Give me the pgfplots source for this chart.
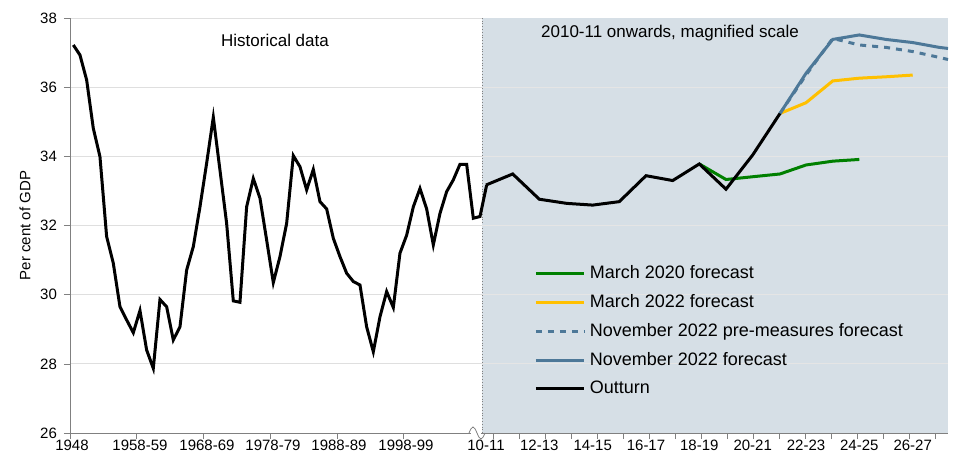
\documentclass[border=0pt]{standalone}
\usepackage{pgfplots}
\pgfplotsset{compat=1.18}
\usepackage{pgfplotstable}
\usepackage{fontspec}
\setmainfont{Liberation Sans}
\definecolor{bgc}{RGB}{214,223,230}
\definecolor{grn}{RGB}{0,128,0}
\definecolor{yel}{RGB}{255,192,0}
\definecolor{blu}{RGB}{77,120,152}
\definecolor{axc}{RGB}{128,128,128}
\pgfplotstableread{
y
37.22
36.93
36.21
34.81
33.99
31.68
30.91
29.65
29.27
28.90
29.54
28.40
27.87
29.86
29.65
28.69
29.07
30.71
31.39
32.54
33.80
35.13
33.60
32.06
29.82
29.78
32.54
33.36
32.79
31.58
30.35
31.10
32.06
34.02
33.70
33.03
33.62
32.69
32.48
31.63
31.10
30.62
30.38
30.28
29.07
28.35
29.36
30.09
29.63
31.20
31.72
32.54
33.07
32.48
31.44
32.35
32.98
33.32
33.77
33.77
32.21
32.26
33.17
}\hist
\begin{document}
\begin{tikzpicture}
\begin{axis}[
  scale only axis, width=439pt, height=207.5pt,
  xmin=70, xmax=948, ymin=26, ymax=38, clip=false,
  /pgf/number format/assume math mode=true,
  axis lines=left, axis line style={axc,-}, 
  ytick={26,28,...,38}, ymajorgrids, grid style={gray!25},
  tick style={axc}, tick align=outside, major tick length=3pt,
  xtick={70,136.7,203.3,270,336.7,403.3,493.3,519.3,545.3,571.3,597.3,623.3,649.3,675.3,701.3,727.3,753.3,779.3,805.3,831.3,857.3,883.3,909.3,935.3},
  xticklabels={},
  extra x ticks={72,140,207,273,339,406,486,539.3,592.7,646,699.3,752.7,806,859.3,912.7},
  extra x tick labels={1948,1958-59,1968-69,1978-79,1988-89,1998-99,10-11,12-13,14-15,16-17,18-19,20-21,22-23,24-25,26-27},
  extra x tick style={major tick length=0pt, grid=none},
  ticklabel style={font=\fontsize{7.5}{8}\selectfont},
  ylabel={Per cent of GDP}, ylabel style={font=\fontsize{7.5}{8}\selectfont, yshift=-2pt},
  legend style={at={(axis cs:528,31.1)}, anchor=north west, draw=none, fill=none,
    font=\fontsize{9}{10}\selectfont, row sep=2.5pt, legend cell align=left},
  legend image code/.code={\draw[#1] (0cm,0cm) -- (0.85cm,0cm);},
]
\fill[bgc] (axis cs:482,26) rectangle (axis cs:948,38);
\draw[densely dotted, gray] (axis cs:482,26) -- (axis cs:482,38);
\foreach \yy in {28,30,...,36} {\edef\t{\noexpand\draw[gray!20] (axis cs:482,\yy) -- (axis cs:948,\yy);}\t}
\addplot[grn, line width=1.5pt] coordinates {(699.3,33.78) (726,33.33) (752.7,33.41) (780,33.49) (806,33.75) (832.7,33.86) (859.3,33.91)};
\addlegendentry{March 2020 forecast}
\addplot[yel, line width=1.5pt] coordinates {(780,35.24) (806,35.55) (832.7,36.18) (859.3,36.26) (886,36.30) (912.7,36.35)};
\addlegendentry{March 2022 forecast}
\addplot[blu, line width=1.5pt, dashed] coordinates {(780,35.24) (806,36.35) (832.7,37.41) (859.3,37.22) (886,37.15) (912.7,37.03) (939.3,36.86) (948,36.8)};
\addlegendentry{November 2022 pre-measures forecast}
\addplot[blu, line width=1.5pt] coordinates {(780,35.24) (806,36.40) (832.7,37.38) (859.3,37.51) (886,37.38) (912.7,37.29) (939.3,37.15) (948,37.12)};
\addlegendentry{November 2022 forecast}
\addplot[black, line width=1.5pt] coordinates {(486,33.17) (512.7,33.49) (539.3,32.76) (566.7,32.64) (592.7,32.59) (619.3,32.69) (646,33.44) (672.7,33.30) (699.3,33.78) (726,33.05) (752.7,34.04) (780,35.24)};
\addlegendentry{Outturn}
\addplot[black, line width=1.5pt, forget plot] table[x expr={73.3+6.667*\coordindex}, y=y] {\hist};
\node[font=\fontsize{8.5}{9}\selectfont] at (axis cs:275,37.35) {Historical data};
\node[font=\fontsize{8.5}{9}\selectfont] at (axis cs:670,37.55) {2010-11 onwards, magnified scale};
\fill[white] (axis cs:471,25.9) rectangle (axis cs:481,26.1);
\draw[axc] (axis cs:469,26) sin ++(2pt,3pt) cos ++(2pt,-3pt) sin ++(2pt,-3pt) cos ++(2pt,3pt);
\path (axis cs:70,38) ++(-35pt,9pt) coordinate (tl);
\path (axis cs:948,26) ++(5pt,-16.5pt) coordinate (br);
\path (tl) (br);
\end{axis}
\end{tikzpicture}
\end{document}
